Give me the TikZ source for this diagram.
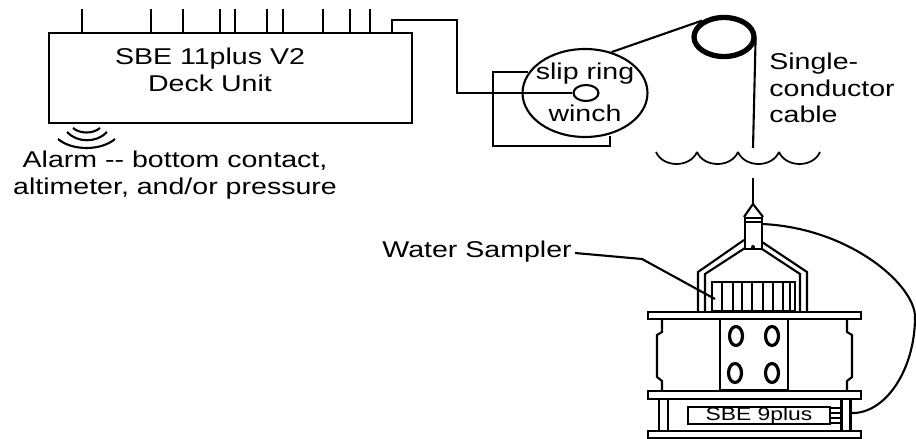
\documentclass[tikz,border=0pt]{standalone}
\usepackage{fontspec}
\setmainfont[FakeStretch=1.25]{Liberation Sans}
\usetikzlibrary{positioning,shapes.geometric,calc}
\tikzset{
    on grid,
    block/.style = {
        draw,
        shape=rectangle,
        inner sep=0pt,
        line width=1.2pt
    },
    plate/.style = {
        block,
        minimum width=4.26cm,
        minimum height=0.15cm
    },
    leg/.style = {
        block,
        minimum width=0.18cm,
        minimum height=0.64cm
    },
    round/.style = {
        draw,
        shape=ellipse,
        inner sep=0pt,
        line width=1.2pt
    },
    hole/.style = {
        round,
        line width=1.8pt,
        minimum width=0.26cm,
        minimum height=0.38cm
    },
    label/.style = {
        align=center,
        inner sep=0pt,
        font=\fontsize{13}{15}\selectfont
    },
    wire/.style = {
        line width=1.2pt
    },
}

\begin{document}
\begin{tikzpicture}[x=0.02cm,y=-0.02cm]
            \useasboundingbox (0,0) rectangle (916,439);

            % surface gear
            \node[block, minimum width=7.26cm, minimum height=1.8cm] (deck) at (230.5,78) {};
            \node[label] (decktext) at (210,70) {SBE 11plus V2\\Deck Unit};
            \node[label] (alarm) at (175,175) {Alarm -{}- bottom contact,\\altimeter, and/or pressure};
            \node[round, minimum width=2.5cm, minimum height=1.76cm] (winch) at (585,93) {};
            \node[round, minimum width=0.5cm, minimum height=0.32cm] (slip) at (586,93) {};
            \node[label] (sliptext) at (585,74) {slip ring};
            \node[label] (winchtext) at (585,113) {winch};
            \node[round, line width=3pt, minimum width=1.2cm, minimum height=0.78cm] (pulley) at (724,37) {};
            \node[label, align=left, anchor=west] (cable) at (769,88) {Single-\\conductor\\cable};
            \node[label, anchor=west] (sampler) at (382,252) {Water Sampler};

            \foreach \x in {82,151,183,220,235,267,283,323,350,370} {
                \coordinate (tick\x) at (\x,9);
                \path[draw, wire] (tick\x) -- (tick\x |- deck.north);
            }

            \coordinate (deckout) at (392,33);
            \coordinate (loopin) at (528,72);
            \coordinate (loopout) at (610,136);
            \path[draw, wire] (deckout) |- (457,20) |- (slip);
            \path[draw, wire] (loopin) -| (493,146) -| (loopout);
            \path[draw, wire] (winch.57) -- (pulley.143);
            \path[draw, wire] (pulley.east) ++(-1,0) -- (753,148);

            % sea surface
            \foreach \x in {656,697,738,779} {
                \path[draw, line width=1pt] (\x,152) .. controls ({\x+7},168) and ({\x+34},168) .. ({\x+41},152);
            }

            % alarm
            \path[draw, wire] (73,128) .. controls (80,134) and (93,134) .. (100,128);
            \path[draw, wire] (67,132) .. controls (77,143) and (97,143) .. (107,132);
            \path[draw, wire] (58,139) .. controls (72,151) and (101,151) .. (115,139);

            % water sampler
            \node[plate] (topplate) at (754.5,315.5) {};
            \node[plate] (midplate) at (754.5,395) {};
            \node[plate] (botplate) at (754.5,434.5) {};
            \node[block, minimum width=1.36cm, minimum height=1.42cm] (panel) at (754,354.5) {};
            \node[block, minimum width=1.66cm, minimum height=0.58cm] (bank) at (753.5,296.5) {};
            \node[block, minimum width=0.34cm, minimum height=0.62cm] (probe) at (753.5,233.5) {};
            \node[hole] (hole1) at (736,336) {};
            \node[hole] (hole2) at (772,336) {};
            \node[hole] (hole3) at (735,373) {};
            \node[hole] (hole4) at (772,373) {};
            \node[leg] (legl) at (663.5,415) {};
            \node[leg] (legr) at (846,415) {};
            \node[block, minimum width=2.84cm, minimum height=0.34cm, font=\fontsize{10.4}{12}\selectfont] (ctd) at (759,415.5) {SBE 9plus};

            \foreach \x in {722,733,742,752,763,773,783,790} {
                \path[draw, wire] (\x,282) -- (\x,311);
            }
            \foreach \y in {408,413,418,423} {
                \path[draw, wire] (ctd.east |- 0,\y) -- (legr.west |- 0,\y);
            }

            \coordinate (tip) at (753,204);
            \path[draw, wire] (753,178) -- (tip);
            \path[draw, wire] (probe.north west) -- (tip) -- (probe.north east);
            \path[draw, wire] (745,222) -- (762,222);
            \path[fill] (753,247) circle (2);
            \path[draw, wire] (698,312) -- (698,272) -- (744,240);
            \path[draw, wire] (705,312) -- (705,274) -- (745,248);
            \path[draw, wire] (807,312) -- (807,272) -- (762,242);
            \path[draw, wire] (800,312) -- (800,274) -- (762,249);
            \path[draw, wire] (662,319) -- (662,332) -- (657,335) -- (657,377) -- (662,381) -- (662,391);
            \path[draw, wire] (847,319) -- (847,332) -- (852,335) -- (852,377) -- (847,381) -- (847,391);

            \path[draw, wire] (sampler.east) ++(3,1) -- (642,259) -- (715,299);
            \path[draw, wire] (762,224) .. controls (850,228) and (915,285) .. (915,317)
                .. controls (915,370) and (885,415) .. (850,413);
        \end{tikzpicture}
\end{document}
